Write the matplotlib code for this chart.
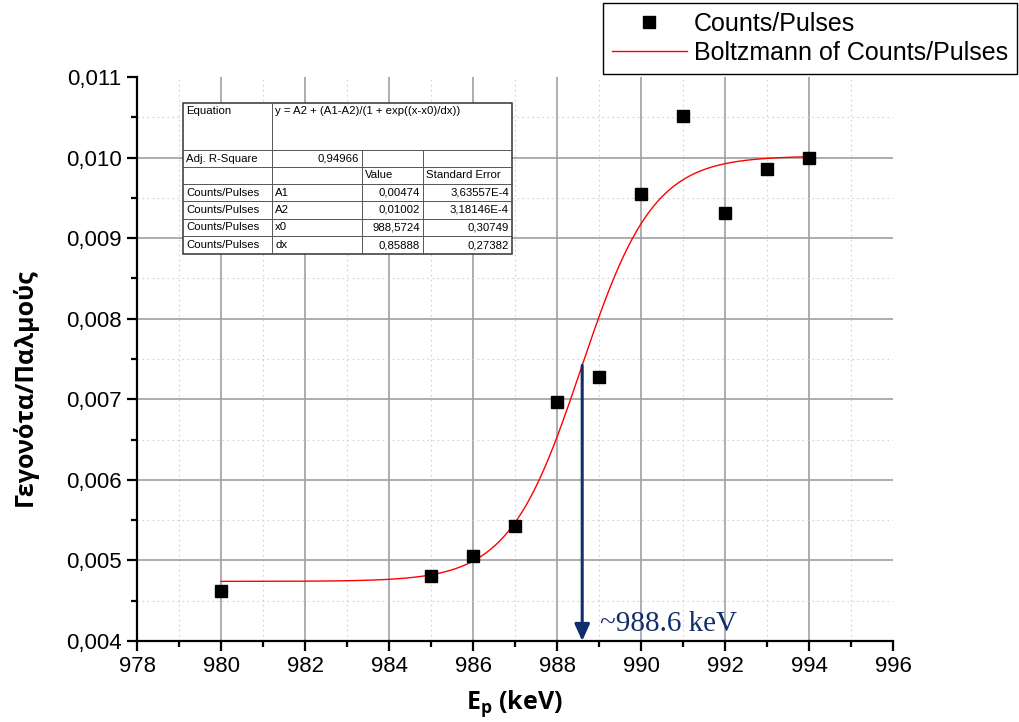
import numpy as np
import matplotlib
matplotlib.use("Agg")
import matplotlib.pyplot as plt
from matplotlib.ticker import MultipleLocator, FuncFormatter
from matplotlib.lines import Line2D
from matplotlib.patches import Rectangle

# measured points
energy = [980, 985, 986, 987, 988, 989, 990, 991, 992, 993, 994]
counts = [0.00462, 0.00481, 0.005055, 0.00543, 0.00697, 0.00728,
          0.00955, 0.01052, 0.00931, 0.00986, 0.00999]

# Boltzmann fit parameters (as shown in the table)
A1 = 0.00474
A2 = 0.01002
x0 = 988.5724
dx = 0.85888
fit_range = [980, 994]

arrow_x = 988.6
arrow_top = 0.00742
arrow_label = "~988.6 keV"

# table contents
eq_text = "y = A2 + (A1-A2)/(1 + exp((x-x0)/dx))"
r2_value = "0,94966"
param_names = ["A1", "A2", "x0", "dx"]
param_values = ["0,00474", "0,01002", "988,5724", "0,85888"]
param_errors = ["3,63557E-4", "3,18146E-4", "0,30749", "0,27382"]

W, H = 1019, 722
fig = plt.figure(figsize=(W / 100, H / 100), dpi=100)
ax = fig.add_axes([137 / W, 1 - 641 / H, (893 - 137) / W, (641 - 77) / H])

# fitted curve
xf = np.linspace(fit_range[0], fit_range[1], 400)
yf = A2 + (A1 - A2) / (1 + np.exp((xf - x0) / dx))
ax.plot(xf, yf, color="red", lw=1.0, zorder=3, label="Boltzmann of Counts/Pulses")
ax.plot(energy, counts, ls="none", marker="s", ms=8, color="black", zorder=4,
        label="Counts/Pulses")

ax.set_xlim(978, 996)
ax.set_ylim(0.004, 0.011)
ax.xaxis.set_major_locator(MultipleLocator(2))
ax.xaxis.set_minor_locator(MultipleLocator(1))
ax.yaxis.set_major_locator(MultipleLocator(0.001))
ax.yaxis.set_minor_locator(MultipleLocator(0.0005))
ax.xaxis.set_major_formatter(FuncFormatter(lambda v, p: f"{v:.0f}"))
ax.yaxis.set_major_formatter(FuncFormatter(lambda v, p: f"{v:.3f}".replace(".", ",")))

ax.grid(which="major", color="#a0a0a0", lw=1.2)
ax.grid(which="minor", color="#d0d0d0", lw=0.8, ls=(0, (1.5, 3)))
ax.set_axisbelow(True)
for spine in ["top", "right"]:
    ax.spines[spine].set_visible(False)
for spine in ["left", "bottom"]:
    ax.spines[spine].set_linewidth(1.6)
ax.tick_params(which="major", direction="out", length=7, width=1.6,
               labelsize=16, pad=4)
ax.tick_params(which="minor", direction="out", length=4, width=1.6)
for lbl in ax.get_xticklabels() + ax.get_yticklabels():
    lbl.set_fontfamily("Liberation Sans")

# hide gridlines that sit on the top/right edges
fig.canvas.draw()
for gl, v in zip(ax.get_ygridlines(), ax.get_yticks()):
    if abs(v - 0.011) < 1e-9:
        gl.set_visible(False)
for gl, v in zip(ax.get_xgridlines(), ax.get_xticks()):
    if v >= 996 or v <= 978:
        gl.set_visible(False)

ax.set_xlabel("E$_\\mathregular{p}$ (keV)", fontsize=18, fontweight="bold",
              fontfamily="Open Sans", labelpad=8)
ax.set_ylabel("Γεγονότα/Παλμούς", fontsize=18, fontweight="bold",
              fontfamily="Open Sans")
ax.yaxis.set_label_coords(-0.131, 0.45)

# arrow to the x axis
navy = "#112d6b"
ax.annotate("", xy=(arrow_x, 0.004), xytext=(arrow_x, arrow_top),
            arrowprops=dict(arrowstyle="-|>,head_width=0.45,head_length=1.0",
                            color=navy, lw=2.2, shrinkA=0, shrinkB=0), zorder=5)
ax.text(arrow_x + 0.42, 0.00413, arrow_label, color=navy, fontsize=21,
        fontfamily="Liberation Serif", ha="left", va="baseline", zorder=5)

# legend
handles, labels = ax.get_legend_handles_labels()
leg = fig.legend(handles[::-1], labels[::-1], loc="upper right",
                 bbox_to_anchor=(1017 / W, 1 - 3 / H), fancybox=False,
                 edgecolor="black", framealpha=1, borderpad=0.35,
                 handlelength=3.0, handletextpad=0.3, labelspacing=0.2,
                 borderaxespad=0,
                 prop={"family": "Liberation Sans", "size": 18})
leg.get_frame().set_linewidth(1.0)

# fit results table, drawn in pixel coords
def fx(x):
    return x / W


def fy(y):
    return 1 - y / H


cols = [183, 272, 362, 423, 512]
rows = [103, 150, 167, 184, 201, 219, 236, 254]
zt = 10
fig.add_artist(Rectangle((fx(cols[0]), fy(rows[-1])), fx(cols[-1]) - fx(cols[0]),
                         fy(rows[0]) - fy(rows[-1]), facecolor="white",
                         edgecolor="#333333", lw=1.1, zorder=zt))
for r in rows[1:-1]:
    fig.add_artist(Line2D([fx(cols[0]), fx(cols[-1])], [fy(r), fy(r)],
                          color="#555555", lw=0.7, zorder=zt + 1))
fig.add_artist(Line2D([fx(cols[1]), fx(cols[1])], [fy(rows[0]), fy(rows[-1])],
                      color="#555555", lw=0.7, zorder=zt + 1))
for c in cols[2:4]:
    fig.add_artist(Line2D([fx(c), fx(c)], [fy(rows[1]), fy(rows[-1])],
                          color="#555555", lw=0.7, zorder=zt + 1))

tkw = dict(fontsize=8.2, fontfamily="Liberation Sans", zorder=zt + 2, va="center")


def cell(text, col, row, align="left", vpos=None):
    yc = (rows[row] + rows[row + 1]) / 2 if vpos is None else vpos
    if align == "left":
        fig.text(fx(cols[col] + 3), fy(yc), text, ha="left", **tkw)
    else:
        fig.text(fx(cols[col + 1] - 3), fy(yc), text, ha="right", **tkw)


cell("Equation", 0, 0, vpos=111)
cell(eq_text, 1, 0, vpos=111)
cell("Adj. R-Square", 0, 1)
cell(r2_value, 1, 1, align="right")
cell("Value", 2, 2)
cell("Standard Error", 3, 2)
for i, (n, v, e) in enumerate(zip(param_names, param_values, param_errors)):
    cell("Counts/Pulses", 0, 3 + i)
    cell(n, 1, 3 + i)
    cell(v, 2, 3 + i, align="right")
    cell(e, 3, 3 + i, align="right")

fig.savefig("out.png", dpi=100)
